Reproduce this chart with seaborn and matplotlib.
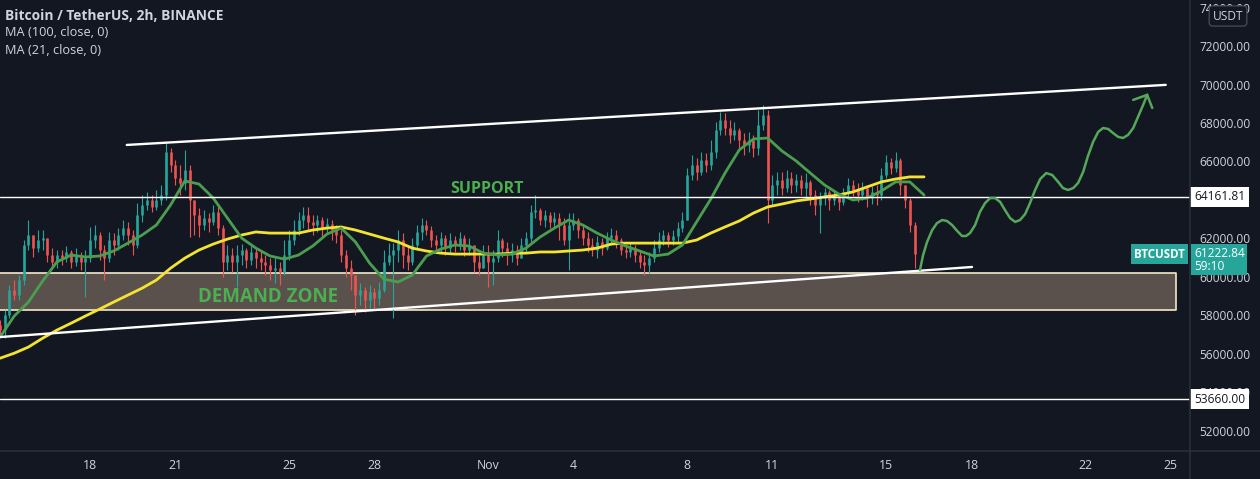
import numpy as np
import pandas as pd
import matplotlib
matplotlib.use("Agg")
import matplotlib.pyplot as plt
import matplotlib.transforms as mtransforms
from matplotlib.lines import Line2D
import seaborn as sns

# ---------------- data (BTCUSDT, 4h candles) ----------------
first_open = 57500
close = [57240,58020,59320,59060,59840,61660,62180,61500,61920,62020,
         61140,60780,61140,60980,61300,60780,61140,60780,60980,61920,
         62180,61400,60980,61920,61660,62180,62540,62180,61660,63220,
         63740,64000,63640,64000,64260,66500,65820,65140,64880,65560,
         64000,63220,62700,63060,62860,63380,62540,60780,61140,60780,
         61140,61400,60880,61300,60980,60780,60620,60360,60460,60260,
         61140,61920,62440,62960,63220,62860,62700,62960,62540,62750,
         62440,62180,61140,60460,60100,59060,59320,58800,59220,58900,
         59320,60780,61140,61400,61920,61140,60780,61660,62340,62700,
         62440,61920,61660,62020,61500,61920,61660,62020,61400,61660,
         60780,60460,61140,60780,60980,61920,61500,61140,61400,60980,
         61660,62020,63380,63480,62960,63220,62860,63060,62700,61920,
         62700,62960,62440,62020,61660,61400,61820,61500,62020,62180,
         61920,61400,61300,61500,61140,60780,60620,60980,61500,61920,
         62180,61920,62130,62540,62960,65300,65820,65460,66080,65820,
         66500,67640,68160,67740,67380,67640,67120,66860,67120,66700,
         67900,68420,64000,64780,65040,64620,65140,64780,65040,64620,
         64940,64260,63740,64100,64420,64000,64260,63900,64420,64780,
         64520,64260,64620,64100,64420,64260,65300,65980,65660,66080,
         64780,64000,62700,61220]
high = [57760,58280,59580,59840,60100,61920,62960,62020,62440,62440,
        61920,61500,61400,61400,61610,61400,61500,61300,61400,62600,
        62700,62340,61660,62340,62280,62540,62960,62860,62440,63840,
        64260,64420,64260,64520,64780,66960,66700,66080,65820,66600,
        65820,63740,63580,63480,63320,63740,63740,62700,61660,61500,
        61660,61710,61500,61610,61500,61400,61140,60980,60980,60780,
        61920,62440,62960,63380,63640,63640,63220,63220,63120,63060,
        62960,62700,62440,61400,60880,60100,59680,59480,59580,59420,
        59740,61400,61760,61760,62440,62280,61660,62020,62700,63060,
        62960,62650,62180,62340,62180,62280,62130,62340,62180,62020,
        61500,61140,61660,61660,61400,62440,62020,61820,61760,61660,
        62020,62340,63740,64260,63580,63480,63380,63380,63320,63060,
        63320,63320,63060,62700,62340,62020,62130,62020,62340,62540,
        62440,62020,61660,61760,61660,61400,61140,61300,61920,62340,
        62440,62340,62440,62860,63380,65660,66340,66180,66500,66440,
        67120,68060,68580,68520,68160,68060,67740,67480,67540,67380,
        68680,68940,68680,65300,65460,65460,65560,65460,65350,65300,
        65400,65040,64520,64420,64620,64520,64520,64360,64620,65140,
        65040,64880,64940,64780,64730,64780,65660,66340,66180,66500,
        66180,64780,64100,62860]
low = [56880,56820,57860,58800,58800,59580,61400,61040,61300,61400,
       60780,60460,60460,60620,60780,60460,60570,60360,58960,60780,
       61500,60880,59840,60780,61140,61400,61920,61660,61140,61500,
       62860,63480,63380,63480,63740,64000,65460,64780,64260,64520,
       62080,62180,62080,62440,62340,62700,62180,60000,60360,60260,
       59480,60620,60460,60620,60460,60360,60100,59840,59680,59580,
       60100,60880,61660,62180,62540,62440,62180,62340,62080,62280,
       61920,61760,60780,60000,59320,58020,58540,58180,58280,58280,
       58540,59220,60620,57860,60780,60460,60360,60620,61400,61920,
       62180,61560,61300,61300,61140,61240,61300,61400,61090,61140,
       60260,60100,60620,59480,59580,60780,61040,60620,60780,60620,
       60980,61300,61820,63060,62700,62600,62540,62600,61920,61660,
       60360,62440,62020,61660,61300,61090,60980,61140,61400,61660,
       61500,61140,60980,61040,60780,60460,60100,60200,60780,61300,
       61660,61560,61660,61820,62340,62960,65040,65040,65300,65460,
       65560,66180,67380,67380,66960,67120,66700,66340,66500,66240,
       66340,67640,62800,63740,64260,64260,64420,64360,64420,64260,
       64160,63740,63220,62280,63740,63480,63740,63480,63740,64100,
       64210,63900,64000,63640,63790,63740,64000,65140,65350,65460,
       64260,63580,62340,60460]

# moving averages read every 12h
ma100 = [55780,56040,56360,56820,57240,57600,57970,58330,58700,59060,
         59420,59840,60460,60980,61400,61710,61970,62180,62340,62280,
         62280,62280,62440,62540,62600,62440,62230,62020,61820,61500,
         61350,61240,61190,61190,61190,61190,61240,61240,61300,61300,
         61350,61400,61500,61710,61760,61760,61760,61760,61760,61920,
         62280,62600,62910,63320,63640,63790,63950,64050,64160,64260,
         64420,64680,64940,65090,65200,65200]
ma21 = [56880,57970,58700,59790,60780,61140,61040,61090,61350,61760,
        62180,62700,63740,64990,64830,64100,63060,62020,61500,61090,
        60930,61140,61610,62230,62540,61820,60720,59890,59740,60100,
        61090,61450,61660,61610,61240,61140,61190,61500,62080,62540,
        62960,62700,62280,61920,61610,61350,61090,61190,61660,62860,
        64050,65400,66600,67170,67220,66550,66030,65400,64780,64310,
        64000,64100,64470,64940,64940,64260]

# drawings
support_level = 64161.81
low_level = 53660.00
last_price = 61222.84
demand_zone = (58290, 60200)
upper_channel_t = ["2021-10-19 07:00", "2021-11-24 20:00"]
upper_channel_p = [66860, 69980]
lower_channel_t = ["2021-10-14 20:00", "2021-11-18 00:30"]
lower_channel_p = [56880, 60520]
arrow_days = [29.19,29.30,29.44,29.62,29.79,29.97,30.14,30.32,30.50,30.67,30.81,30.95,
              31.13,31.30,31.48,31.66,31.83,32.01,32.18,32.36,32.54,32.71,32.89,33.06,
              33.24,33.42,33.63,33.84,34.05,34.22,34.40,34.58,34.75,34.93,35.10,35.28,
              35.46,35.63,35.81,35.98,36.16,36.33,36.51,36.69,36.86,37.04,37.18]
arrow_price = [60360,61140,61820,62440,62800,62960,62910,62700,62390,62130,62130,62280,
               62700,63380,63840,64100,64100,63900,63480,63060,62860,62960,63270,63840,
               64520,65090,65400,65300,64940,64620,64520,64620,64880,65460,66290,67020,
               67540,67740,67690,67480,67280,67220,67380,67740,68320,68940,69460]
arrow_wing_days = [36.69, 37.18, 37.36]
arrow_wing_price = [69200, 69460, 68780]

date_ticks = ["2021-10-18", "2021-10-21", "2021-10-25", "2021-10-28", "2021-11-01",
              "2021-11-04", "2021-11-08", "2021-11-11", "2021-11-15", "2021-11-18",
              "2021-11-22", "2021-11-25"]
date_labels = ["18", "21", "25", "28", "Nov", "4", "8", "11", "15", "18", "22", "25"]
price_ticks = [52000, 54000, 56000, 58000, 60000, 62000, 66000, 68000, 70000, 72000, 74000]

# ---------------- style ----------------
BG = "#131722"
TXT = "#d1d4dc"
UP = "#26a69a"
DN = "#ef5350"
GRID = "#2a2e39"
GREEN_TXT = "#4caf50"

sns.set_theme(style="dark", rc={"axes.facecolor": BG, "figure.facecolor": BG,
                                "savefig.facecolor": BG})
plt.rcParams["font.family"] = ["Open Sans", "DejaVu Sans"]

fig = plt.figure(figsize=(12.6, 4.79), dpi=100)
ax = fig.add_axes([0, 28 / 479, 1190 / 1260, 451 / 479])
ax.set_facecolor(BG)
for s in ax.spines.values():
    s.set_visible(False)

t0 = pd.Timestamp("2021-10-14 20:00")
base = pd.Timestamp("2021-10-18 00:00")
times = pd.date_range(t0, periods=len(close), freq="4h")
o = np.array([first_open] + close[:-1], dtype=float)
c = np.array(close, dtype=float)
h = np.maximum(np.array(high, dtype=float), np.maximum(o, c))
l = np.minimum(np.array(low, dtype=float), np.minimum(o, c))
cols = np.where(c >= o, UP, DN)

# demand zone
zone_t0 = pd.Timestamp("2021-10-13")
zone_t1 = pd.Timestamp("2021-11-25 05:00")
ax.fill_between([zone_t0, zone_t1], demand_zone[0], demand_zone[1],
                color="#5a514c", zorder=1, lw=0)
ax.plot([zone_t0, zone_t1, zone_t1, zone_t0, zone_t0],
        [demand_zone[1], demand_zone[1], demand_zone[0], demand_zone[0], demand_zone[1]],
        color="#f3e8c8", lw=1.2, zorder=1.5)

# candles
ax.vlines(times, l, h, colors=cols, lw=0.8, zorder=2)
ax.vlines(times, np.minimum(o, c), np.maximum(o, c), colors=cols, lw=1.9, zorder=2)

# moving averages
ma_times = pd.date_range(t0, periods=len(ma21), freq="12h")
ma_df = pd.DataFrame({"time": ma_times, "ma100": ma100, "ma21": ma21})
sns.lineplot(data=ma_df, x="time", y="ma100", color="#f4e430", lw=2.0, ax=ax,
             zorder=3, legend=False)
sns.lineplot(data=ma_df, x="time", y="ma21", color="#4b9e50", lw=2.0, ax=ax,
             zorder=3.2, legend=False)

# horizontal levels
ax.axhline(support_level, color="white", lw=1.0, zorder=3.5)
ax.axhline(low_level, color="white", lw=1.0, zorder=3.5)

# channel lines
ax.plot(pd.to_datetime(upper_channel_t), upper_channel_p, color="white", lw=1.7, zorder=4)
ax.plot(pd.to_datetime(lower_channel_t), lower_channel_p, color="white", lw=1.7, zorder=4)

# projection arrow
arr_t = base + pd.to_timedelta(arrow_days, unit="D")
ax.plot(arr_t, arrow_price, color="#55a85a", lw=1.8, zorder=4, solid_capstyle="round")
wing_t = base + pd.to_timedelta(arrow_wing_days, unit="D")
ax.plot(wing_t, arrow_wing_price, color="#55a85a", lw=1.8, zorder=4,
        solid_joinstyle="miter")

# texts
ax.text(base + pd.to_timedelta(13.96, unit="D"), 64570, "SUPPORT", color=GREEN_TXT,
        fontsize=11.5, fontweight="bold", ha="center", va="center", zorder=5)
ax.text(base + pd.to_timedelta(6.26, unit="D"), 58960, "DEMAND ZONE", color=GREEN_TXT,
        fontsize=13.5, fontweight="bold", ha="center", va="center", zorder=5)

# axes limits & ticks
ax.set_xlim(pd.Timestamp("2021-10-14 20:00"), pd.Timestamp("2021-11-25 16:30"))
ax.set_ylim(50960, 74390)
ax.set_xticks(pd.to_datetime(date_ticks))
ax.set_xticklabels(date_labels)
ax.yaxis.tick_right()
ax.set_yticks(price_ticks)
ax.set_yticklabels([f"{v:.2f}" for v in price_ticks])
ax.tick_params(axis="y", colors=TXT, labelsize=8.6, length=0, pad=7)
ax.tick_params(axis="x", colors=TXT, labelsize=8.8, length=0, pad=6)
ax.set_xlabel("")
ax.set_ylabel("")
ax.grid(False)

# separators
fig.add_artist(Line2D([0, 1], [28 / 479, 28 / 479], color=GRID, lw=1.2,
                      transform=fig.transFigure))
fig.add_artist(Line2D([1190 / 1260, 1190 / 1260], [0, 1], color=GRID, lw=1.2,
                      transform=fig.transFigure))

# price labels on the axis
trans = mtransforms.blended_transform_factory(ax.transAxes, ax.transData)
xr = 1.0 + 4 / 1190
ax.text(xr, support_level, f"{support_level:.2f}", transform=trans, color=BG,
        fontsize=8.6, ha="left", va="center", clip_on=False, zorder=10,
        bbox=dict(boxstyle="square,pad=0.3", fc="white", ec="none"))
ax.text(xr, low_level, f"{low_level:.2f}", transform=trans, color=BG,
        fontsize=8.6, ha="left", va="center", clip_on=False, zorder=10,
        bbox=dict(boxstyle="square,pad=0.3", fc="white", ec="none"))
ax.text(xr, last_price - 330, f"{last_price:.2f}\n59:10", transform=trans, color="white",
        fontsize=8.6, ha="left", va="center", clip_on=False, zorder=10, linespacing=0.95,
        bbox=dict(boxstyle="square,pad=0.22", fc=UP, ec="none"))
ax.text(1.0 - 5 / 1190, last_price - 50, "BTCUSDT", transform=trans, color="white",
        fontsize=8.3, fontweight="bold", ha="right", va="center", clip_on=False, zorder=10,
        bbox=dict(boxstyle="square,pad=0.3", fc=UP, ec="none"))

# legend texts
fig.text(5 / 1260, 1 - 16 / 479, "Bitcoin / TetherUS, 2h, BINANCE", color=TXT,
         fontsize=9.9, fontweight="bold", ha="left", va="center")
fig.text(5 / 1260, 1 - 33 / 479, "MA (100, close, 0)", color=TXT,
         fontsize=9.2, ha="left", va="center")
fig.text(5 / 1260, 1 - 51 / 479, "MA (21, close, 0)", color=TXT,
         fontsize=9.2, ha="left", va="center")
fig.text(1228 / 1260, 1 - 16 / 479, "USDT", color=TXT, fontsize=8.6, ha="center",
         va="center", bbox=dict(boxstyle="round,pad=0.3,rounding_size=0.3", fc=BG,
                                ec="#50535e", lw=0.8))

fig.savefig("out.png", dpi=100, facecolor=BG)
